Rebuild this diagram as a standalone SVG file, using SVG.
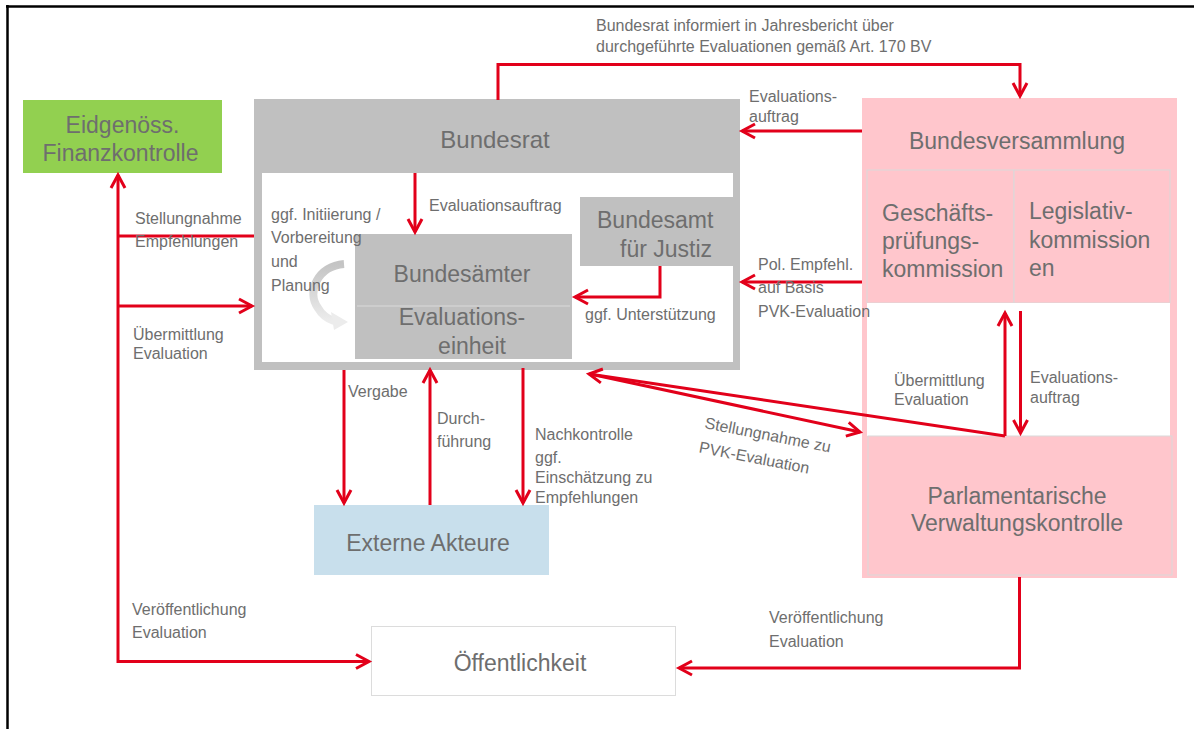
<svg xmlns="http://www.w3.org/2000/svg" width="1194" height="729" viewBox="0 0 1194 729">
<defs>
<style>
.t{font-family:"Liberation Sans",Arial,sans-serif;fill:#6e6e6e}
.lb{font-size:16px}
.tt{font-size:23px}
.c{stroke:#e2001a;stroke-width:3;fill:none}
.a{marker-end:url(#ah)}
.gb{fill:#c0c0c0}
.pk{fill:#ffc6cc}
.sub{fill:#ffc6cc;stroke:#d9d9d9;stroke-width:1}
</style>
<marker id="ah" viewBox="-16 -10 20 20" refX="0" refY="0" markerWidth="20" markerHeight="20" markerUnits="userSpaceOnUse" orient="auto-start-reverse">
<path d="M-13,-7 L0,0 L-13,7" fill="none" stroke="#e2001a" stroke-width="3"/>
</marker>
<linearGradient id="cg" x1="0" y1="0" x2="0" y2="1">
<stop offset="0" stop-color="#c4c4c4"/>
<stop offset="1" stop-color="#ececec"/>
</linearGradient>
</defs>
<rect width="1194" height="729" fill="#fff"/>
<g id="frame" stroke="#000" stroke-width="2.5">
<line x1="6" y1="6.5" x2="1194" y2="6.5"/>
<line x1="7.5" y1="5" x2="7.5" y2="729"/>
</g>
<g id="efk">
<rect x="23" y="100" width="199" height="73" fill="#92d050"/>
<text class="t tt" x="122.5" y="133" text-anchor="middle">Eidgenöss.</text>
<text class="t tt" x="120.5" y="161" text-anchor="middle">Finanzkontrolle</text>
</g>
<g id="bundesrat">
<rect class="gb" x="254" y="99" width="486" height="271"/>
<rect x="262" y="173" width="471" height="189" fill="#fff"/>
<text class="t" font-size="24" x="495" y="148" text-anchor="middle">Bundesrat</text>
</g>
<g id="bundesamt-justiz">
<rect class="gb" x="580" y="197" width="153" height="69"/>
<text class="t tt" x="597" y="228">Bundesamt</text>
<text class="t tt" x="620" y="257">für Justiz</text>
</g>
<g id="bundesaemter">
<rect class="gb" x="355" y="234" width="217" height="125"/>
<line x1="357" y1="306" x2="570" y2="306" stroke="#dadada" stroke-width="1"/>
<text class="t tt" x="462" y="282" text-anchor="middle">Bundesämter</text>
<text class="t tt" x="462" y="325" text-anchor="middle">Evaluations-</text>
<text class="t tt" x="472" y="354" text-anchor="middle">einheit</text>
</g>
<g id="zyklus">
<path d="M344,264 C318,266 306,292 318,308 C322,315 328,319 334,321" fill="none" stroke="url(#cg)" stroke-width="8"/>
<polygon points="331,312 348,322 334,330" fill="#ececec"/>
</g>
<g id="bundesversammlung">
<rect class="pk" x="862" y="98" width="315" height="480"/>
<text class="t" font-size="23" x="1017" y="149" text-anchor="middle">Bundesversammlung</text>
</g>
<g id="gpk">
<rect class="sub" x="867" y="170" width="147" height="133"/>
<text class="t tt" x="882" y="221">Geschäfts-</text>
<text class="t tt" x="882" y="249">prüfungs-</text>
<text class="t tt" x="882" y="277">kommission</text>
</g>
<g id="legislativ">
<rect class="sub" x="1014" y="170" width="156" height="133"/>
<text class="t tt" x="1029" y="219">Legislativ-</text>
<text class="t tt" x="1029" y="248">kommission</text>
<text class="t tt" x="1029" y="276">en</text>
</g>
<rect x="867" y="303" width="303" height="133" fill="#fff"/>
<g id="pvk">
<rect class="sub" x="868" y="436" width="304" height="139"/>
<text class="t tt" x="1017" y="504" text-anchor="middle">Parlamentarische</text>
<text class="t tt" x="1017" y="531" text-anchor="middle">Verwaltungskontrolle</text>
</g>
<g id="externe">
<rect x="314" y="505" width="235" height="70" fill="#c8dfec"/>
<text class="t tt" x="428" y="551" text-anchor="middle">Externe Akteure</text>
</g>
<g id="oeffentlichkeit">
<rect x="371.5" y="626.5" width="304" height="69" fill="#fff" stroke="#dcdcdc" stroke-width="1"/>
<text class="t tt" x="520" y="671" text-anchor="middle">Öffentlichkeit</text>
</g>
<g id="connectors">
<path class="c a" d="M498,100 V64.5 H1020 V96"/>
<path class="c a" d="M862,131 H742"/>
<path class="c a" d="M862,282 H742"/>
<path class="c a" d="M415,173 V232"/>
<path class="c a" d="M660,266 V297 H575"/>
<path class="c" d="M254,236 H118"/>
<path class="c a" d="M118,306 H252"/>
<path class="c" d="M118,175 V661.5 H369" marker-start="url(#ah)" marker-end="url(#ah)"/>
<path class="c a" d="M344,370 V503"/>
<path class="c a" d="M430,505 V370"/>
<path class="c a" d="M523,368 V503"/>
<path class="c a" d="M1005,436 V313"/>
<path class="c a" d="M1020.5,311 V433"/>
<path class="c a" d="M1005,436 L589,374"/>
<path class="c a" d="M590,374 L860,432"/>
<path class="c a" d="M1019.5,577 V668 H679"/>
</g>
<g id="labels" class="t lb">
<text x="596" y="31">Bundesrat informiert in Jahresbericht über</text>
<text x="596" y="52">durchgeführte Evaluationen gemäß Art. 170 BV</text>
<text x="749" y="102">Evaluations-</text>
<text x="749" y="122">auftrag</text>
<text x="758" y="270">Pol. Empfehl.</text>
<text x="758" y="293">auf Basis</text>
<text x="758" y="317">PVK-Evaluation</text>
<text x="429" y="211">Evaluationsauftrag</text>
<text x="585" y="320">ggf. Unterstützung</text>
<text x="271" y="220">ggf. Initiierung /</text>
<text x="271" y="243">Vorbereitung</text>
<text x="271" y="267">und</text>
<text x="271" y="291">Planung</text>
<text x="135" y="224">Stellungnahme</text>
<text x="135" y="247">Empfehlungen</text>
<text x="133" y="340">Übermittlung</text>
<text x="133" y="359">Evaluation</text>
<text x="132" y="615">Veröffentlichung</text>
<text x="132" y="638">Evaluation</text>
<text x="348" y="397">Vergabe</text>
<text x="437" y="424">Durch-</text>
<text x="437" y="447">führung</text>
<text x="535" y="440">Nachkontrolle</text>
<text x="535" y="463">ggf.</text>
<text x="535" y="483">Einschätzung zu</text>
<text x="535" y="503">Empfehlungen</text>
<text x="894" y="386">Übermittlung</text>
<text x="894" y="405">Evaluation</text>
<text x="1030" y="383">Evaluations-</text>
<text x="1030" y="403">auftrag</text>
<text x="769" y="623">Veröffentlichung</text>
<text x="769" y="647">Evaluation</text>
<g transform="translate(704,428) rotate(11)">
<text x="0" y="0">Stellungnahme zu</text>
<text x="-1" y="25">PVK-Evaluation</text>
</g>
</g>
</svg>
